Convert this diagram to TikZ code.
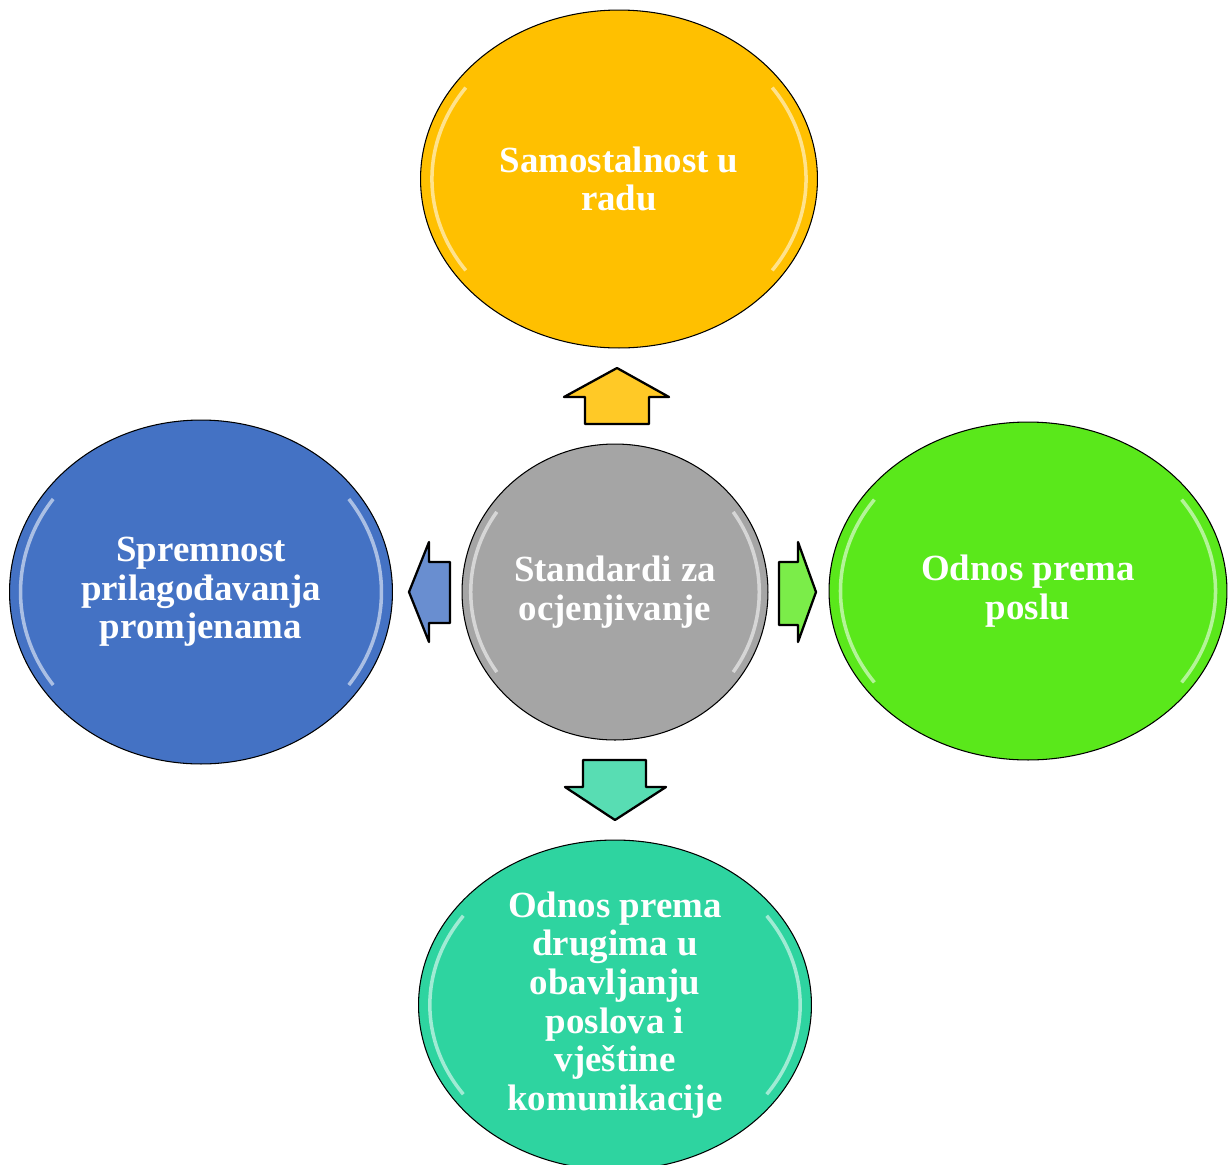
\documentclass[tikz,border=0pt]{standalone}
\usepackage{fontspec}
\setmainfont{Liberation Serif}
\usepackage{xcolor}
\usetikzlibrary{shapes.geometric,calc}
\definecolor{cyellow}{HTML}{FFC000}
\definecolor{cgray}{HTML}{A5A5A5}
\definecolor{cblue}{HTML}{4472C4}
\definecolor{cgreen}{HTML}{5AE81B}
\definecolor{cteal}{HTML}{2ED4A0}

\begin{document}
\begin{tikzpicture}[x=0.02cm, y=-0.02cm,
    bubble/.style={ellipse, draw=black, line width=0.6pt, inner sep=0pt, text=white, align=center,
        font=\bfseries\fontsize{21}{22}\selectfont},
    blockarr/.style={draw=black, line width=1.3pt, line join=round},
    gloss/.style={white, line width=2pt, opacity=0.55}]
    \useasboundingbox (0,0) rectangle (1228,1164);
    % the five ellipses
    \node (top) at (619, 179) [bubble, fill=cyellow, minimum width=7.94cm, minimum height=6.76cm] {Samostalnost u\\radu};
    \node (mid) at (615, 592) [bubble, fill=cgray, minimum width=6.12cm, minimum height=5.92cm] {Standardi za\\ocjenjivanje};
    \node (lft) at (201, 592) [bubble, fill=cblue, minimum width=7.66cm, minimum height=6.88cm] {Spremnost\\prilagođavanja\\promjenama};
    \node (rgt) at (1028, 591) [bubble, fill=cgreen, minimum width=7.96cm, minimum height=6.76cm] {Odnos prema\\poslu};
    \node (bot) at (615, 1005) [bubble, fill=cteal, minimum width=7.86cm, minimum height=6.6cm] {Odnos prema\\drugima u\\obavljanju\\poslova i\\vještine\\komunikacije};
    \foreach \b in {top, mid, lft, rgt, bot}
        \draw [gloss] let \p1 = ($(\b.east)-(\b.center)$), \p2 = ($(\b.north)-(\b.center)$) in
            ($(\b.center)+(145:0.94*\x1 and 0.94*\y2)$) arc [start angle=145, end angle=215, x radius=0.94*\x1, y radius=0.94*\y2]
            ($(\b.center)+(-35:0.94*\x1 and 0.94*\y2)$) arc [start angle=-35, end angle=35, x radius=0.94*\x1, y radius=0.94*\y2];
    % block arrows
    \draw [blockarr, fill=cyellow!85!white] (617, 368) -- (669, 397) -- (649, 397) -- (649, 424) -- (585, 424) -- (585, 397) -- (564, 397) -- cycle;
    \draw [blockarr, fill=cblue!80!white] (409, 592) -- (429, 542) -- (429, 562) -- (450, 562) -- (450, 623) -- (429, 623) -- (429, 642) -- cycle;
    \draw [blockarr, fill=cgreen!80!white] (816, 592) -- (798, 542) -- (798, 562) -- (779, 562) -- (779, 625) -- (798, 625) -- (798, 642) -- cycle;
    \draw [blockarr, fill=cteal!80!white] (615, 820) -- (666, 787) -- (646, 787) -- (646, 760) -- (583, 760) -- (583, 787) -- (565, 787) -- cycle;
\end{tikzpicture}
\end{document}
